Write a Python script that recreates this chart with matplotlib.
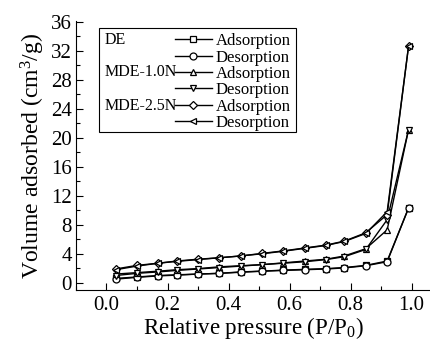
import numpy as np
import matplotlib.pyplot as plt
from matplotlib.ticker import MultipleLocator
from matplotlib.patches import Rectangle

plt.rcParams['font.family'] = 'Liberation Serif'
plt.rcParams['mathtext.default'] = 'regular'

# relative pressure P/P0
p = [0.03, 0.10, 0.17, 0.23, 0.30, 0.37, 0.44, 0.51, 0.58, 0.65, 0.72, 0.78, 0.85, 0.92, 0.99]

de_ads = [0.6, 0.8, 1.0, 1.1, 1.2, 1.3, 1.5, 1.6, 1.75, 1.85, 1.95, 2.1, 2.4, 3.0, 10.3]
de_des = [0.5, 0.75, 0.95, 1.05, 1.2, 1.3, 1.45, 1.6, 1.7, 1.8, 1.9, 2.05, 2.35, 2.9, 10.3]
m1_ads = [1.2, 1.4, 1.6, 1.8, 1.95, 2.2, 2.35, 2.5, 2.75, 3.0, 3.25, 3.7, 4.7, 7.3, 21.1]
m1_des = [1.0, 1.3, 1.5, 1.7, 1.9, 2.1, 2.3, 2.5, 2.7, 2.9, 3.2, 3.6, 4.6, 8.7, 21.1]
m2_ads = [1.9, 2.4, 2.7, 3.0, 3.25, 3.45, 3.7, 4.05, 4.4, 4.8, 5.2, 5.75, 6.9, 9.4, 32.6]
m2_des = [1.8, 2.3, 2.7, 2.95, 3.2, 3.45, 3.7, 4.0, 4.35, 4.75, 5.15, 5.7, 6.8, 9.8, 32.6]

series = [(de_ads, 's', 'Adsorption'), (de_des, 'o', 'Desorption'),
          (m1_ads, '^', 'Adsorption'), (m1_des, 'v', 'Desorption'),
          (m2_ads, 'D', 'Adsorption'), (m2_des, '<', 'Desorption')]
groups = ['DE', 'MDE-1.0N', 'MDE-2.5N']

fig = plt.figure(figsize=(4.3, 3.4), dpi=100)
ax = fig.add_axes([0.1767, 0.147, 0.823, 0.791])

handles = []
for vals, mk, lab in series:
    ms = 4.2 if mk == 'D' else 5
    h, = ax.plot(p, vals, color='black', lw=1.0, marker=mk, ms=ms,
                 mfc='white', mec='black', mew=0.9, label=lab)
    handles.append(h)

ax.set_xlim(-0.1, 1.06)
ax.set_ylim(-1, 36.1)
ax.xaxis.set_minor_locator(MultipleLocator(0.1))
ax.yaxis.set_major_locator(MultipleLocator(4))
ax.yaxis.set_minor_locator(MultipleLocator(2))
ax.set_xticks(np.arange(0, 1.01, 0.2))
ax.set_xticklabels(['0.0', '0.2', '0.4', '0.6', '0.8', '1.0'])
ax.tick_params(which='both', direction='in', labelsize=15, width=0.8)
ax.tick_params(which='major', length=5)
ax.tick_params(which='minor', length=3)
ax.tick_params(axis='y', pad=3)
ax.tick_params(axis='x', pad=4)
ax.spines['top'].set_visible(False)
ax.spines['right'].set_visible(False)
ax.set_xlabel('Relative pressure (P/P$_0$)', fontsize=16.5, labelpad=0.5)
ax.set_ylabel('Volume adsorbed (cm$^3$/g)', fontsize=17, labelpad=3)

# legend, with group names on the left inside a hand-drawn frame
ax.add_patch(Rectangle((0.065, 0.587), 0.556, 0.387, transform=ax.transAxes,
                       fill=False, edgecolor='black', lw=0.8))
leg = ax.legend(handles=handles, loc='upper left', bbox_to_anchor=(0.28, 0.955),
                frameon=False, fontsize=12, handlelength=2.2, handletextpad=0.25,
                labelspacing=0.02, borderpad=0, borderaxespad=0)
for i, g in enumerate(groups):
    ax.text(0.08, [0.929, 0.809, 0.684][i], g, transform=ax.transAxes,
            fontsize=11.5, va='center', ha='left')

fig.savefig('out.png', dpi=100)
